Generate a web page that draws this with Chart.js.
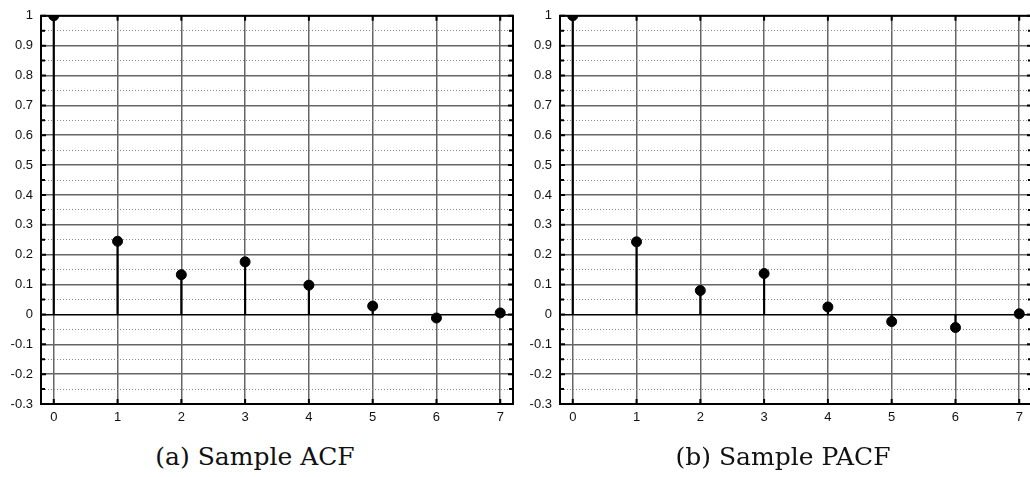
<!DOCTYPE html>
<html>
<head>
<meta charset="utf-8">
<script src="https://cdn.jsdelivr.net/npm/chart.js@4/dist/chart.umd.min.js"></script>
<style>
  html, body { margin: 0; padding: 0; background: #fff; overflow: hidden; }
  body { width: 1030px; height: 477px; position: relative; }
  .panel { position: absolute; top: 0; }
  .caption {
    position: absolute; top: 442px; width: 400px; text-align: center;
    font-family: "DejaVu Serif", serif; font-size: 25px; line-height: 30px; color: #111;
  }
</style>
</head>
<body>
<div class="panel" style="left:0px"><canvas id="acf-chart" width="520" height="430"></canvas></div>
<div class="panel" style="left:519px"><canvas id="pacf-chart" width="520" height="430"></canvas></div>
<div class="caption" style="left:55px">(a) Sample ACF</div>
<div class="caption" style="left:583px">(b) Sample PACF</div>
<script>
// lags and sample values
const lags = [0, 1, 2, 3, 4, 5, 6, 7];
const acfValues = [1, 0.245, 0.133, 0.176, 0.098, 0.028, -0.012, 0.005];
const pacfValues = [1, 0.243, 0.08, 0.137, 0.025, -0.024, -0.044, 0.002];

// axis ticks
const xTicks = [0, 1, 2, 3, 4, 5, 6, 7];
const yMajorTicks = [-0.3, -0.2, -0.1, 0, 0.1, 0.2, 0.3, 0.4, 0.5, 0.6, 0.7, 0.8, 0.9, 1];

// minor ticks sit halfway between the labelled ones
let yAllTicks = [];
yMajorTicks.forEach(function (v, i) {
    yAllTicks.push(v);
    if (i < yMajorTicks.length - 1) yAllTicks.push(+(v + 0.05).toFixed(2));
});

function isMajor(v) {
    return Math.abs(v * 10 - Math.round(v * 10)) < 1e-6;
}

const tickFont = { family: 'Liberation Sans', size: 13 };

// frame + short inward tick marks like the original plot
const framePlugin = {
    id: 'frame',
    beforeDatasetsDraw(chart) {
        const ctx = chart.ctx;
        const a = chart.chartArea;
        const xs = chart.scales.x, ys = chart.scales.y;
        ctx.save();
        ctx.strokeStyle = '#000';
        ctx.lineWidth = 2;
        ctx.beginPath();
        xs.ticks.forEach(function (t) {
            const px = xs.getPixelForValue(t.value);
            ctx.moveTo(px, a.top); ctx.lineTo(px, a.top + 5);
            ctx.moveTo(px, a.bottom); ctx.lineTo(px, a.bottom - 5);
        });
        ys.ticks.forEach(function (t) {
            const py = ys.getPixelForValue(t.value);
            const len = isMajor(t.value) ? 5 : 4;
            ctx.moveTo(a.left, py); ctx.lineTo(a.left + len, py);
            ctx.moveTo(a.right, py); ctx.lineTo(a.right - len, py);
        });
        ctx.stroke();
        ctx.strokeRect(a.left, a.top, a.right - a.left, a.bottom - a.top);
        ctx.restore();
    }
};

function makeChart(canvasId, values) {
    const points = lags.map((x, i) => ({ x: x, y: values[i] }));
    return new Chart(document.getElementById(canvasId), {
        type: 'scatter',
        data: {
            datasets: [
                {
                    type: 'scatter',
                    data: points,
                    backgroundColor: '#000',
                    borderColor: '#000',
                    pointRadius: 5,
                    pointHoverRadius: 5,
                    order: 0
                },
                {
                    type: 'bar',
                    data: points,
                    backgroundColor: '#000',
                    borderWidth: 0,
                    barThickness: 1.5,
                    grouped: false,
                    order: 1
                }
            ]
        },
        options: {
            responsive: false,
            animation: false,
            devicePixelRatio: 1,
            layout: { padding: { top: 14, right: 7, bottom: 0, left: 0 } },
            plugins: { legend: { display: false }, tooltip: { enabled: false } },
            scales: {
                x: {
                    type: 'linear',
                    min: -0.2,
                    max: 7.2,
                    offset: false,
                    afterBuildTicks: function (scale) {
                        scale.ticks = xTicks.map(v => ({ value: v }));
                    },
                    afterFit: function (scale) { scale.height = 26; },
                    ticks: {
                        font: tickFont,
                        color: '#111',
                        padding: 6,
                        maxRotation: 0,
                        callback: v => String(v)
                    },
                    grid: { color: '#666', lineWidth: 1.5, drawTicks: false, offset: false },
                    border: { display: true, color: '#000', width: 2 }
                },
                y: {
                    type: 'linear',
                    min: -0.3,
                    max: 1,
                    afterBuildTicks: function (scale) {
                        scale.ticks = yAllTicks.map(v => ({ value: v }));
                    },
                    afterFit: function (scale) { scale.width = 41; },
                    ticks: {
                        font: tickFont,
                        color: '#111',
                        padding: 8,
                        autoSkip: false,
                        callback: function (v) {
                            return isMajor(v) ? String(Math.round(v * 10) / 10) : '';
                        }
                    },
                    grid: {
                        drawTicks: false,
                        color: function (c) {
                            if (!c.tick) return '#666';
                            if (Math.abs(c.tick.value) < 1e-9) return '#000';
                            return isMajor(c.tick.value) ? '#666' : '#888';
                        },
                        lineWidth: function (c) {
                            if (!c.tick) return 1.5;
                            return isMajor(c.tick.value) ? 1.5 : 1;
                        }
                    },
                    border: {
                        display: true,
                        color: '#000',
                        width: 2,
                        dash: function (c) {
                            if (!c.tick) return [];
                            return isMajor(c.tick.value) ? [] : [1, 2];
                        }
                    }
                }
            }
        },
        plugins: [framePlugin]
    });
}

makeChart('acf-chart', acfValues);
makeChart('pacf-chart', pacfValues);
</script>
</body>
</html>
